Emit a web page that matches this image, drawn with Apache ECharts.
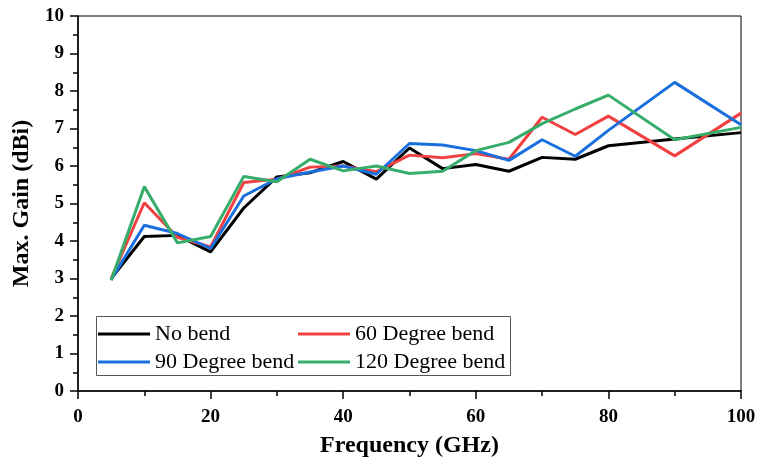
<!DOCTYPE html>
<html><head><meta charset="utf-8">
<script src="https://cdn.jsdelivr.net/npm/echarts@6/dist/echarts.min.js"></script>
<style>html,body{margin:0;padding:0;background:#fff}#c{width:757px;height:461px}</style>
</head><body><div id="c"></div>
<script>
const freq = [5,10,15,20,25,30,35,40,45,50,55,60,65,70,75,80,90,100];
const noBend   = [3.0,4.12,4.15,3.71,4.88,5.71,5.82,6.12,5.65,6.48,5.93,6.04,5.86,6.23,6.18,6.54,6.72,6.89];
const deg60    = [3.0,5.02,4.1,3.84,5.56,5.65,5.97,6.0,5.85,6.29,6.22,6.33,6.18,7.3,6.84,7.33,6.27,7.41];
const deg90    = [2.97,4.42,4.2,3.8,5.2,5.66,5.84,6.0,5.78,6.6,6.56,6.41,6.15,6.7,6.26,6.95,8.23,7.1];
const deg120   = [2.95,5.45,3.95,4.12,5.72,5.58,6.18,5.87,6.0,5.8,5.86,6.41,6.63,7.13,7.52,7.89,6.7,7.03];
const names = ['No bend','60 Degree bend','90 Degree bend','120 Degree bend'];
const colors = ['#000000','#F14040','#1A6FDF','#37AD6B'];
const xTicks = [0,20,40,60,80,100];
const yTicks = [0,1,2,3,4,5,6,7,8,9,10];
const seriesData = [noBend, deg60, deg90, deg120];

const chart = echarts.init(document.getElementById('c'));
const font = 'Liberation Serif';
function leg(name, left, top){
  return {data:[name], left:left, top:top, itemWidth:52, itemHeight:14, itemGap:0,
    textStyle:{fontFamily:font, fontSize:22, color:'#000', padding:[0,0,0,0]},
    icon:'path://M0,6 L52,6 L52,9 L0,9 Z', padding:0};
}
chart.setOption({
  animation:false,
  grid:{left:78, right:16, top:16, bottom:70, show:true, borderColor:'#000', borderWidth:1,
    containLabel:false, outerBoundsMode:'none'},
  legend:[leg(names[0],98,323), leg(names[1],298,323), leg(names[2],98,351), leg(names[3],298,351)],
  graphic:[{type:'rect', shape:{x:96.5,y:316.5,width:414,height:59}, style:{fill:null, stroke:'#555', lineWidth:1}, z:0}],
  xAxis:{type:'value', min:0, max:100, interval:20,
    name:'Frequency (GHz)', nameLocation:'middle', nameGap:43,
    nameTextStyle:{fontFamily:font, fontSize:24, fontWeight:'bold', color:'#000'},
    axisLine:{lineStyle:{color:'#000', width:1.5}},
    axisTick:{inside:false, length:8, lineStyle:{color:'#000', width:1.5}},
    minorTick:{show:true, splitNumber:2, length:5, lineStyle:{color:'#000', width:1.5}},
    splitLine:{show:false},
    axisLabel:{fontFamily:font, fontSize:19, fontWeight:'bold', color:'#000', margin:17,
      formatter:v=>xTicks.includes(v)?String(v):''}},
  yAxis:{type:'value', min:0, max:10, interval:1,
    name:'Max. Gain (dBi)', nameLocation:'middle', nameGap:41, nameRotate:90,
    nameTextStyle:{fontFamily:font, fontSize:24, fontWeight:'bold', color:'#000'},
    axisLine:{show:true, lineStyle:{color:'#000', width:1.5}},
    axisTick:{show:true, inside:false, length:8, lineStyle:{color:'#000', width:1.5}},
    minorTick:{show:true, splitNumber:2, length:5, lineStyle:{color:'#000', width:1.5}},
    splitLine:{show:false},
    axisLabel:{fontFamily:font, fontSize:19, fontWeight:'bold', color:'#000', margin:14,
      formatter:v=>yTicks.includes(v)?String(v):''}},
  series: seriesData.map((d,i)=>({
    name:names[i], type:'line', data:freq.map((f,j)=>[f,d[j]]),
    symbol:'none', color:colors[i], lineStyle:{width:3, color:colors[i]}, z:10
  }))
});
</script></body></html>
